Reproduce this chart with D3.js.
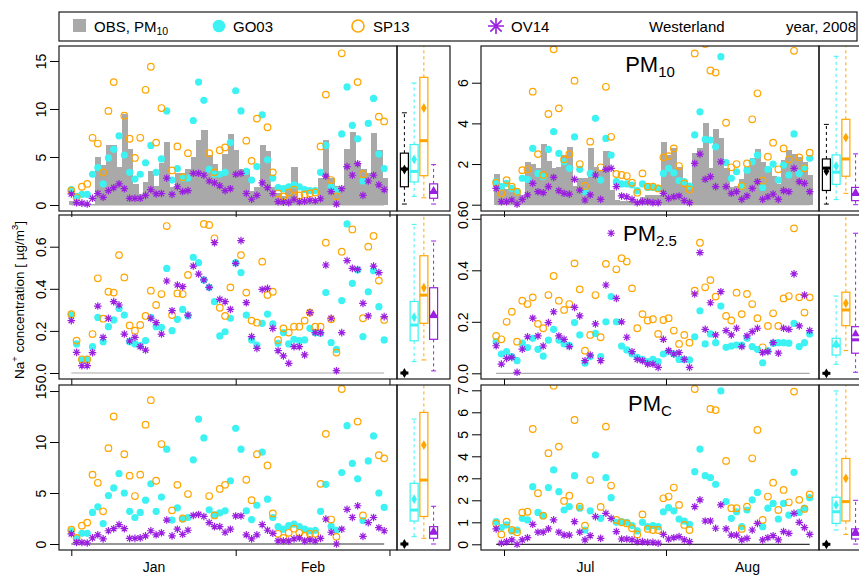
<!DOCTYPE html>
<html>
<head>
<meta charset="utf-8">
<script src="https://cdn.jsdelivr.net/npm/d3@7/dist/d3.min.js"></script>
<style>
  body { margin: 0; background: #fff; }
  text { font-family: "Liberation Sans", Arial, Helvetica, sans-serif; }
</style>
</head>
<body>
<script>
// ---- data ----
// winter: 1 Jan - 29 Feb 2008 (60 days), summer: 29 Jun - 28 Aug 2008 (61 days)
const obsW10 = [0.4,0.1,0.1,0.1,0.1,5.0,4.2,6.3,6.3,4.0, 9.5,5.8,2.2,1.1,2.4,3.5,2.0,4.4,6.6,1.9,
  3.3,3.3,3.7,5.0,6.8,7.8,5.2,4.3,3.2,5.3, 7.4,5.7,3.8,3.7,1.5,1.9,6.3,5.6,1.9,1.2,
  0.9,1.6,4.0,0.4,0.3,0.3,0.5,2.8,6.8,2.8, 2.0,1.5,5.8,7.6,4.3,3.8,3.3,7.5,5.7,2.8];
const goW10 = [1.6,0.9,1.1,1.1,3.2,3.9,2.2,4.9,5.8,7.2, 5.2,3.4,2.7,3.2,4.4,6.2,3.4,4.8,9.8,2.6,
  3.8,2.8,2.8,8.8,12.8,10.9,3.7,3.2,3.2,3.4, 6.5,11.9,9.8,3.5,2.6,4.0,9.4,4.7,2.8,1.8,
  1.7,1.9,2.1,1.9,1.6,1.5,1.5,3.4,6.2,1.9, 1.5,7.4,12.3,8.3,6.9,2.5,8.5,11.1,5.3,3.8];
const spW10 = [1.5,0.8,1.9,2.2,7.0,6.4,3.4,9.8,12.8,18.5, 9.3,6.9,4.9,7.0,12.0,14.4,6.5,10.1,22.0,3.6,
  6.1,2.9,5.4,19.0,26.0,21.5,5.4,3.4,5.7,6.0, 17.5,24.0,20.0,6.7,4.6,9.0,19.5,8.1,3.4,1.2,
  0.9,1.3,1.6,1.0,1.1,1.2,1.3,6.1,11.5,2.6, 0.9,15.8,25.0,17.8,12.8,3.2,17.5,22.0,9.2,8.7];
const ovW10 = [1.15,0.25,0.2,0.1,0.7,1.2,0.8,1.5,1.8,2.2, 1.7,0.7,0.7,0.7,1.0,1.6,1.15,1.2,2.8,1.1,
  1.9,1.4,1.5,3.3,3.3,3.1,2.5,2.3,2.0,1.5, 1.7,3.2,3.3,1.2,0.6,1.0,2.3,1.8,1.2,0.35,
  0.3,0.25,0.6,0.35,0.4,0.5,0.45,0.65,3.0,1.4, 0.1,1.7,4.0,3.1,4.3,1.0,2.5,3.1,2.1,1.6];

const goW25 = [0.275,0.138,0.062,0.065,0.125,0.264,0.149,0.22,0.252,0.307, 0.275,0.149,0.138,0.131,0.154,0.264,0.22,0.217,0.497,0.201,
  0.255,0.302,0.271,0.55,0.524,0.442,0.407,0.339,0.176,0.196, 0.26,0.524,0.477,0.275,0.157,0.133,0.236,0.28,0.233,0.141,
  0.192,0.138,0.16,0.154,0.157,0.212,0.192,0.188,0.382,0.144, 0.112,0.344,0.708,0.426,0.489,0.173,0.386,0.486,0.315,0.157];
const spW25 = [0.279,0.154,0.065,0.065,0.185,0.45,0.258,0.386,0.382,0.56, 0.454,0.226,0.201,0.228,0.271,0.391,0.323,0.375,0.698,0.275,
  0.378,0.375,0.466,0.82,0.78,0.708,0.703,0.64,0.31,0.271, 0.407,0.8,0.56,0.382,0.249,0.239,0.529,0.371,0.386,0.157,
  0.212,0.192,0.22,0.22,0.249,0.287,0.22,0.22,0.619,0.255, 0.097,0.576,0.9,0.682,0.78,0.26,0.6,0.651,0.439,0.252];
const ovW25 = [0.249,0.098,0.035,0.035,0.097,0.318,0.169,0.26,0.339,0.323, 0.185,0.152,0.169,0.125,0.109,0.26,0.239,0.185,0.437,0.296,
  0.418,0.41,0.275,0.508,0.47,0.442,0.407,0.619,0.35,0.339, 0.302,0.521,0.629,0.334,0.173,0.117,0.397,0.402,0.212,0.106,
  0.081,0.046,0.125,0.125,0.086,0.287,0.192,0.192,0.513,0.26, 0.011,0.192,0.534,0.497,0.492,0.331,0.271,0.508,0.477,0.268];

const goWc = [1.3,0.55,1.05,1.05,3.1,3.65,2.0,4.75,5.5,6.9, 5.0,3.2,2.6,3.1,4.3,5.9,3.2,4.6,9.3,2.35,
  3.55,2.45,2.6,8.25,12.25,10.4,3.35,2.85,3.05,3.25, 6.2,11.35,9.3,3.25,2.4,3.8,9.0,4.4,2.6,1.7,
  1.45,1.8,1.95,1.7,1.45,1.3,1.35,3.2,5.85,1.75, 1.35,7.0,11.6,7.9,6.4,2.3,8.15,10.6,5.0,3.6];
const spWc = [1.4,0.6,1.8,2.1,6.8,6.0,3.2,9.4,12.5,18.0, 8.8,6.7,4.7,6.8,11.7,14.1,6.2,9.8,21.3,3.3,
  5.8,2.5,4.9,18.2,25.2,20.8,4.7,2.8,5.4,5.8, 17.1,23.2,19.4,6.3,4.3,8.8,19.0,7.7,3.0,1.0,
  0.6,1.1,1.5,1.1,0.8,1.0,1.0,5.9,10.8,2.4, 0.7,15.2,24.1,17.1,12.0,2.8,16.9,21.3,8.7,8.4];
const ovWc = [1.0,0.15,0.15,0.1,0.6,0.9,0.5,1.3,1.5,1.9, 1.5,0.55,0.55,0.6,0.8,1.3,0.9,1.1,2.35,0.8,
  1.45,0.95,1.35,2.8,2.9,2.7,2.1,1.7,1.7,1.15, 1.45,2.75,2.75,0.9,0.5,0.9,1.9,1.35,1.05,0.3,
  0.3,0.3,0.5,0.6,0.3,0.4,0.3,0.55,2.45,1.15, 0.0,1.45,3.4,2.6,3.75,0.75,2.1,2.6,1.6,1.3];

const obsS10 = [1.5,0.8,0.75,0.7,0.55,0.5,2.1,2.0,1.8,3.0, 2.15,1.8,1.85,2.45,2.85,0.9,1.3,1.3,2.8,1.85,
  1.7,2.65,0.7,0.25,0.2,0.2,0.2,0.2,0.4,0.5, 0.5,0.5,3.1,2.45,2.8,1.85,1.15,0.9,2.55,2.8,
  4.0,1.8,3.7,3.3,1.8,0.85,0.9,1.25,1.85,2.3, 2.75,2.1,1.8,1.4,1.0,2.2,2.7,2.5,2.35,2.1, 1.45];
const goS10 = [1.13,0.89,1.05,0.8,0.64,1.3,1.25,2.77,1.54,1.38, 2.72,3.59,2.52,2.11,1.79,3.34,1.74,0.64,1.54,4.25,
  1.21,3.26,2.44,1.13,1.02,1.02,0.97,0.69,1.02,0.85, 0.85,0.8,1.54,1.79,1.57,1.18,1.13,0.92,3.43,4.57,
  3.21,3.18,2.85,7.28,2.07,1.3,1.62,0.89,1.7,2.11, 2.44,0.85,1.74,2.0,1.21,1.95,1.46,3.48,1.54,1.79, 2.28];
const spS10 = [1.08,0.56,1.21,0.89,0.64,1.7,1.74,5.56,2.49,1.46, 4.46,7.64,4.74,2.23,2.49,6.1,2.0,0.92,3.1,8.6,
  1.84,5.8,3.34,1.51,1.46,1.41,1.08,0.59,1.54,0.89, 0.89,0.8,2.33,2.39,2.77,1.9,1.05,0.75,7.44,9.8,
  7.9,6.6,6.5,10.5,4.03,1.84,2.0,0.92,2.03,4.2, 5.48,1.18,2.36,3.05,1.74,2.77,2.23,7.57,2.33,1.79, 2.56];
const ovS10 = [0.8,0.15,0.15,0.23,0.03,0.26,0.48,1.05,0.64,0.59, 0.89,1.34,0.69,0.56,0.52,1.25,0.72,0.23,0.48,1.46,
  0.26,1.74,1.79,0.89,0.43,0.39,0.26,0.1,0.15,0.15, 0.1,0.1,0.56,0.31,0.39,0.43,0.2,0.1,2.03,2.49,
  1.25,1.38,0.89,2.11,0.89,0.56,0.64,0.26,0.43,0.8, 1.13,0.26,0.39,0.52,0.26,0.69,0.64,1.79,1.13,1.05, 0.64];

const goS25 = [0.123,0.075,0.084,0.065,0.049,0.117,0.1,0.136,0.093,0.067, 0.129,0.171,0.129,0.114,0.109,0.197,0.149,0.039,0.065,0.155,
  0.065,0.2,0.298,0.2,0.106,0.091,0.075,0.062,0.054,0.045, 0.054,0.045,0.075,0.084,0.075,0.054,0.054,0.052,0.142,0.243,
  0.114,0.153,0.119,0.261,0.101,0.106,0.11,0.11,0.136,0.104, 0.093,0.041,0.088,0.117,0.119,0.119,0.117,0.194,0.104,0.119, 0.153];
const spS25 = [0.145,0.132,0.2,0.239,0.123,0.282,0.269,0.295,0.192,0.175, 0.304,0.378,0.282,0.246,0.269,0.427,0.326,0.088,0.149,0.304,
  0.14,0.425,0.67,0.404,0.447,0.434,0.33,0.175,0.23,0.205, 0.21,0.153,0.207,0.214,0.166,0.114,0.149,0.119,0.321,0.507,
  0.334,0.362,0.298,0.65,0.223,0.205,0.313,0.23,0.308,0.269, 0.214,0.101,0.184,0.233,0.184,0.291,0.3,0.563,0.295,0.236, 0.295];
const ovS25 = [0.107,0.036,0.058,0.062,0.004,0.094,0.142,0.214,0.145,0.106, 0.197,0.239,0.145,0.132,0.104,0.256,0.223,0.049,0.071,0.192,
  0.049,0.343,0.544,0.291,0.2,0.14,0.084,0.054,0.049,0.036, 0.036,0.023,0.132,0.088,0.075,0.08,0.054,0.023,0.308,0.469,
  0.171,0.274,0.149,0.317,0.166,0.149,0.175,0.104,0.145,0.162, 0.175,0.08,0.084,0.119,0.078,0.175,0.171,0.386,0.184,0.304, 0.166];

const goSc = [1.03,0.76,0.88,0.61,0.65,1.18,1.11,2.62,1.45,1.3, 2.58,3.38,2.39,1.56,1.71,3.12,1.64,0.65,1.52,4.06,
  1.18,3.03,2.12,1.0,1.03,1.0,0.85,0.61,1.0,0.8, 0.85,0.8,1.48,1.67,1.52,1.15,1.06,0.91,3.3,4.33,
  3.12,3.03,2.73,6.97,1.94,1.18,1.48,0.8,1.56,2.02, 2.36,0.8,1.64,1.86,1.15,1.86,1.33,3.27,1.45,1.64, 2.12];
const spSc = [0.95,0.45,1.03,0.65,0.55,1.45,1.48,5.24,2.32,1.3, 4.14,7.21,4.44,1.97,2.21,5.65,1.71,0.85,2.92,8.3,
  1.7,5.35,2.67,1.11,1.0,0.95,0.73,0.45,1.36,0.7, 0.65,0.65,2.09,2.17,2.58,1.79,0.88,0.65,7.06,9.3,
  7.6,6.15,6.1,9.9,3.79,1.64,1.64,0.7,1.71,3.91, 5.2,1.11,2.17,2.8,1.56,2.47,1.91,6.94,2.02,1.61, 2.27];
const ovSc = [0.7,0.05,0.12,0.2,0.0,0.2,0.3,0.91,0.55,0.55, 0.7,1.11,0.55,0.42,0.42,1.03,0.55,0.2,0.39,1.26,
  0.27,1.41,1.18,0.58,0.24,0.24,0.2,0.12,0.12,0.09, 0.09,0.05,0.45,0.24,0.3,0.35,0.2,0.12,1.71,2.02,
  1.06,1.06,0.73,1.79,0.7,0.42,0.42,0.2,0.27,0.65, 0.95,0.2,0.3,0.39,0.2,0.58,0.5,1.41,1.0,0.76, 0.45];

// box statistics of the whole year: [min, q1, median, q3, max, mean] for OBS, GO03, SP13, OV14
const boxW10 = [[0.1,1.9,3.75,5.4,9.6,3.7],[0.9,2.4,3.5,6.3,12.7,4.75],[0.75,3.05,6.7,13.3,30,10.1],[0.1,0.7,1.3,2.2,4.2,1.5]];
const boxS10 = [[0.03,0.7,1.8,2.25,3.95,1.65],[0.25,1.0,1.6,2.45,7.3,1.9],[0.56,1.4,2.25,4.2,12,3.3],[0.0,0.2,0.5,0.85,2.5,0.6]];
const boxW25 = [[0,0,0,0,0,0],[0.054,0.153,0.228,0.34,0.706,0.265],[0.062,0.236,0.37,0.557,1.0,0.405],[0.01,0.16,0.268,0.405,0.627,0.279]];
const boxS25 = [[0,0,0,0,0,0],[0.035,0.071,0.107,0.136,0.30,0.114],[0.088,0.185,0.246,0.315,0.8,0.272],[0.004,0.078,0.13,0.181,0.544,0.153]];
const boxWc = [[0,0,0,0,0,0],[0.72,2.25,3.33,5.95,12.25,4.4],[0.56,2.7,6.27,12.9,28,9.7],[0.0,0.56,1.05,1.7,3.7,1.27]];
const boxSc = [[0,0,0,0,0,0],[0.65,0.95,1.48,2.14,6.97,1.79],[0.45,1.06,1.94,3.9,10,3.0],[0.01,0.24,0.45,0.7,2.0,0.57]];

const legendLabels = ['GO03', 'SP13', 'OV14'];
const stationName = 'Westerland';
const periodName = 'year, 2008';

// ---- layout ----
const W = 859, H = 576;
const DAY = 864e5;
const colors = { obs: '#a9a9a9', go: '#3cf2f2', sp: '#ffa500', ov: '#9a1fe0' };

const winterDates = d3.timeDay.range(new Date(2008, 0, 1), new Date(2008, 2, 1));
const summerDates = d3.timeDay.range(new Date(2008, 5, 29), new Date(2008, 7, 29)).map(d => d3.timeHour.offset(d, 12));

const jan1 = new Date(2008, 0, 1), jul1 = new Date(2008, 6, 1);
const xWinter = d3.scaleTime()
  .domain([new Date(+jan1 - 2.32 * DAY), new Date(+jan1 + 61.42 * DAY)])
  .range([59, 397]);
const xSummer = d3.scaleTime()
  .domain([new Date(+jul1 - 4.4 * DAY), new Date(+jul1 + 60.28 * DAY)])
  .range([481, 819]);

const rows = [[46, 211], [215, 379], [385, 550]];

const svg = d3.select('body').append('svg')
  .attr('width', W).attr('height', H);

const star = r => {
  const k = r * 0.7071;
  return `M${-r},0H${r}M0,${-r}V${r}M${-k},${-k}L${k},${k}M${-k},${k}L${k},${-k}`;
};

let clipId = 0;
function clipRect(x0, y0, x1, y1) {
  const id = 'clip' + (clipId++);
  svg.append('clipPath').attr('id', id)
    .append('rect').attr('x', x0).attr('y', y0).attr('width', x1 - x0).attr('height', y1 - y0);
  return `url(#${id})`;
}

function drawPanel(p) {
  const [y0, y1] = rows[p.row];
  const xs = p.xs;
  const [x0, x1] = xs.range();
  const ys = d3.scaleLinear().domain(p.yDomain).range([y1, y0]);

  // main plot region
  const g = svg.append('g').attr('clip-path', clipRect(x0, y0, x1, y1));

  if (p.obs) {
    // observations as a stepped bar series, one day wide
    g.append('g').attr('shape-rendering', 'crispEdges')
      .selectAll('rect')
      .data(p.obs)
      .enter().append('rect')
        .attr('x', (d, i) => xs(new Date(+p.dates[i] - DAY / 2)))
        .attr('width', (d, i) => xs(new Date(+p.dates[i] + DAY / 2)) - xs(new Date(+p.dates[i] - DAY / 2)) + 1)
        .attr('y', d => ys(d))
        .attr('height', d => ys(0) - ys(d))
        .attr('fill', colors.obs);
  }
  // zero line of observations
  g.append('line')
    .attr('x1', xs(p.dates[0])).attr('x2', xs(p.dates[p.dates.length - 1]))
    .attr('y1', ys(0)).attr('y2', ys(0))
    .attr('stroke', p.zeroColor).attr('stroke-width', 1.2);

  g.selectAll('circle.go')
    .data(p.go)
    .enter().append('circle')
      .attr('class', 'go')
      .attr('cx', (d, i) => xs(p.dates[i]))
      .attr('cy', d => ys(d))
      .attr('r', 3.6)
      .attr('fill', colors.go);

  g.selectAll('circle.sp')
    .data(p.sp)
    .enter().append('circle')
      .attr('class', 'sp')
      .attr('cx', (d, i) => xs(p.dates[i]))
      .attr('cy', d => ys(d))
      .attr('r', 3.3)
      .attr('fill', 'none')
      .attr('stroke', colors.sp)
      .attr('stroke-width', 1.2);

  g.selectAll('path.ov')
    .data(p.ov)
    .enter().append('path')
      .attr('class', 'ov')
      .attr('transform', (d, i) => `translate(${xs(p.dates[i])},${ys(d)})`)
      .attr('d', star(3.8))
      .attr('fill', 'none')
      .attr('stroke', colors.ov)
      .attr('stroke-width', 1.2);

  // title
  if (p.title) {
    const t = svg.append('text')
      .attr('x', (x0 + x1) / 2).attr('y', y0 + 26)
      .attr('text-anchor', 'middle')
      .attr('font-size', 22)
      .text('PM');
    t.append('tspan').attr('font-size', 15).attr('dy', 5).text(p.title);
  }

  // y axis
  const ya = svg.append('g')
    .attr('transform', `translate(${x0},0)`)
    .call(d3.axisLeft(ys).tickValues(p.yTicks).tickSize(9).tickFormat(p.fmt));
  ya.select('.domain').remove();
  ya.selectAll('.tick line').attr('stroke', '#000');
  ya.selectAll('.tick text')
    .attr('x', null)
    .attr('dy', '0.36em')
    .attr('text-anchor', 'middle')
    .attr('transform', 'translate(-18,0) rotate(-90)')
    .attr('font-size', 14)
    .attr('fill', '#000')
    .attr('font-family', '"Liberation Sans", Arial, sans-serif');

  // x ticks (month starts)
  const monthTicks = d3.timeMonth.range(xs.domain()[0], xs.domain()[1]).map(d => d3.timeMonth.ceil(d))
    .filter(d => xs(d) >= x0 && xs(d) <= x1);
  const xa = svg.append('g')
    .attr('transform', `translate(0,${y1})`)
    .call(d3.axisBottom(xs).tickValues(monthTicks).tickSize(6).tickFormat(''));
  xa.select('.domain').remove();
  xa.selectAll('.tick line').attr('stroke', '#000');

  if (p.row === 2) {
    const mids = monthTicks.map(d => new Date((+d + +d3.timeMonth.offset(d, 1)) / 2))
      .filter(d => xs(d) < x1);
    const lab = svg.append('g')
      .attr('transform', `translate(0,${y1})`)
      .call(d3.axisBottom(xs).tickValues(mids).tickSize(0).tickPadding(12)
        .tickFormat(d3.timeFormat('%b')));
    lab.select('.domain').remove();
    lab.selectAll('text').attr('font-size', 14).attr('fill', '#000')
      .attr('font-family', '"Liberation Sans", Arial, sans-serif');
  }

  // frame
  svg.append('rect')
    .attr('x', x0).attr('y', y0).attr('width', x1 - x0).attr('height', y1 - y0)
    .attr('fill', 'none').attr('stroke', '#1a1a1a').attr('stroke-width', 1.2);

  // boxplot panel
  const bx0 = x1, bx1 = x1 + 53;
  const bg = svg.append('g').attr('clip-path', clipRect(bx0, y0, bx1, y1));
  const bxs = d3.scaleLinear().domain([0, 3]).range([bx0 + 7.4, bx0 + 36.6]);
  const boxColors = ['#000', colors.go, colors.sp, colors.ov];
  p.stats.forEach((s, i) => {
    const [mn, q1, md, q3, mx, mean] = s;
    const cx = bxs(i), c = boxColors[i], hw = 4;
    bg.append('line').attr('x1', cx).attr('x2', cx).attr('y1', ys(q3)).attr('y2', ys(mx))
      .attr('stroke', c).attr('stroke-dasharray', '3,3');
    bg.append('line').attr('x1', cx).attr('x2', cx).attr('y1', ys(q1)).attr('y2', ys(mn))
      .attr('stroke', c).attr('stroke-dasharray', '3,3');
    [mn, mx].forEach(v => bg.append('line')
      .attr('x1', cx - 2.5).attr('x2', cx + 2.5).attr('y1', ys(v)).attr('y2', ys(v))
      .attr('stroke', c));
    bg.append('rect').attr('x', cx - hw).attr('width', 2 * hw)
      .attr('y', ys(q3)).attr('height', ys(q1) - ys(q3))
      .attr('fill', '#fff').attr('stroke', c).attr('stroke-width', 1.2);
    bg.append('line').attr('x1', cx - hw).attr('x2', cx + hw).attr('y1', ys(md)).attr('y2', ys(md))
      .attr('stroke', c).attr('stroke-width', 3);
    bg.append('path')
      .attr('transform', `translate(${cx},${ys(mean)})`)
      .attr('d', d3.symbol(i === 3 ? d3.symbolTriangle : d3.symbolDiamond, i === 3 ? 28 : 28)())
      .attr('fill', c);
  });
  svg.append('rect')
    .attr('x', bx0).attr('y', y0).attr('width', bx1 - bx0).attr('height', y1 - y0)
    .attr('fill', 'none').attr('stroke', '#1a1a1a').attr('stroke-width', 1.2);
}

const fmt0 = d3.format('d'), fmt1 = d3.format('.1f');

drawPanel({ row: 0, xs: xWinter, dates: winterDates, yDomain: [-0.625, 16.56], yTicks: [0, 5, 10, 15], fmt: fmt0,
  obs: obsW10, go: goW10, sp: spW10, ov: ovW10, stats: boxW10, zeroColor: colors.obs });
drawPanel({ row: 1, xs: xWinter, dates: winterDates, yDomain: [-0.0285, 0.7506], yTicks: [0, 0.2, 0.4, 0.6], fmt: fmt1,
  go: goW25, sp: spW25, ov: ovW25, stats: boxW25, zeroColor: '#aaaaaa' });
drawPanel({ row: 2, xs: xWinter, dates: winterDates, yDomain: [-0.588, 15.59], yTicks: [0, 5, 10, 15], fmt: fmt0,
  go: goWc, sp: spWc, ov: ovWc, stats: boxWc, zeroColor: '#333' });
drawPanel({ row: 0, xs: xSummer, dates: summerDates, yDomain: [-0.31, 7.806], yTicks: [0, 2, 4, 6], fmt: fmt0,
  obs: obsS10, go: goS10, sp: spS10, ov: ovS10, stats: boxS10, zeroColor: colors.obs, title: '10' });
drawPanel({ row: 1, xs: xSummer, dates: summerDates, yDomain: [-0.0221, 0.6148], yTicks: [0, 0.2, 0.4, 0.6], fmt: fmt1,
  go: goS25, sp: spS25, ov: ovS25, stats: boxS25, zeroColor: '#aaaaaa', title: '2.5' });
drawPanel({ row: 2, xs: xSummer, dates: summerDates, yDomain: [-0.259, 7.241], yTicks: [0, 1, 2, 3, 4, 5, 6, 7], fmt: fmt0,
  go: goSc, sp: spSc, ov: ovSc, stats: boxSc, zeroColor: '#333', title: 'C' });

// y axis title
const yt = svg.append('text')
  .attr('transform', 'translate(24,300) rotate(-90)')
  .attr('text-anchor', 'middle')
  .attr('font-size', 13.5)
  .text('Na');
yt.append('tspan').attr('font-size', 9.5).attr('dy', -6).text('+');
yt.append('tspan').attr('dy', 6).text(' concentration [ µg/m');
yt.append('tspan').attr('font-size', 9.5).attr('dy', -6).text('3');
yt.append('tspan').attr('dy', 6).text(']');

// legend
const lg = svg.append('g');
lg.append('rect').attr('x', 59).attr('y', 12).attr('width', 798).attr('height', 29)
  .attr('fill', 'none').attr('stroke', '#1a1a1a').attr('stroke-width', 1.2);
lg.append('rect').attr('x', 73).attr('y', 19).attr('width', 13).attr('height', 13).attr('fill', colors.obs);
const lt = lg.append('text').attr('x', 94).attr('y', 31.5).attr('font-size', 15).text('OBS, PM');
lt.append('tspan').attr('font-size', 10.5).attr('dy', 3).text('10');
lg.append('circle').attr('cx', 219).attr('cy', 26).attr('r', 6.3).attr('fill', colors.go);
lg.append('circle').attr('cx', 358).attr('cy', 26).attr('r', 6).attr('fill', 'none')
  .attr('stroke', colors.sp).attr('stroke-width', 1.6);
lg.append('path').attr('transform', 'translate(496,26)').attr('d', star(8))
  .attr('fill', 'none').attr('stroke', colors.ov).attr('stroke-width', 1.6);
[233, 373, 511].forEach((x, i) =>
  lg.append('text').attr('x', x).attr('y', 31.5).attr('font-size', 15).text(legendLabels[i]));
lg.append('text').attr('x', 649).attr('y', 31.5).attr('font-size', 15).text(stationName);
lg.append('text').attr('x', 856).attr('y', 31.5).attr('text-anchor', 'end').attr('font-size', 15).text(periodName);
</script>
</body>
</html>
